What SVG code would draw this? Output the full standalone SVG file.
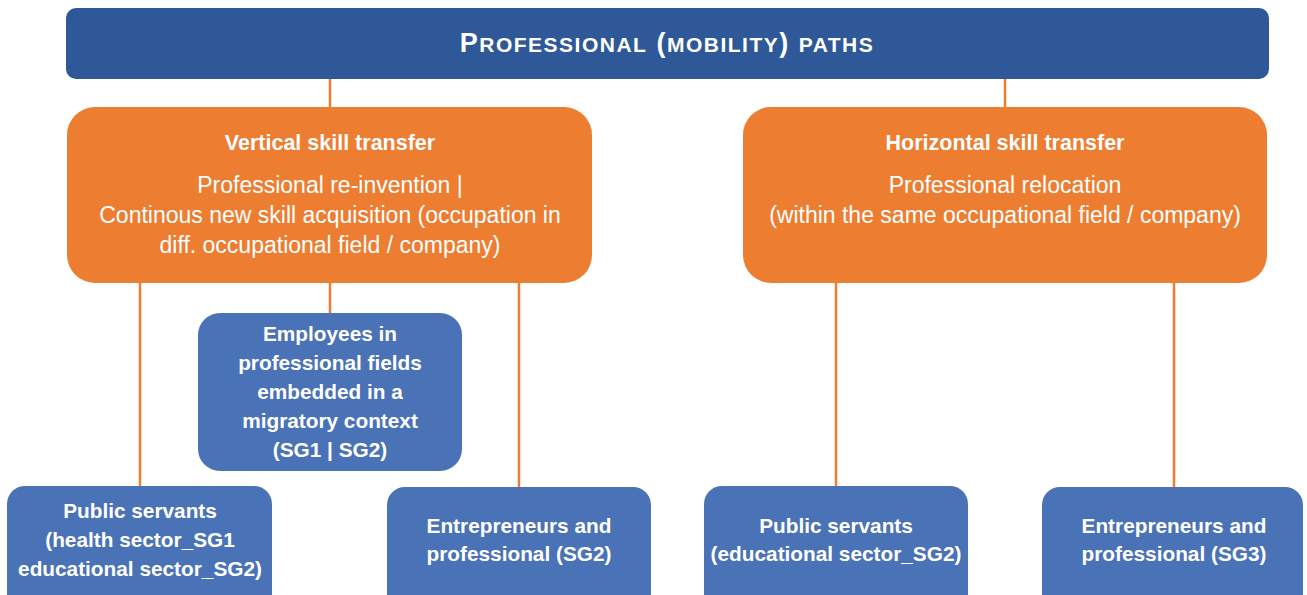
<svg xmlns="http://www.w3.org/2000/svg" width="1307" height="595" viewBox="0 0 1307 595">
<style>
.title{fill:#2E5898}
.orange{fill:#ED7D31}
.blue{fill:#4A72B7}
.conn{stroke:#ED7D31;stroke-width:2.5;fill:none}
text{font-family:"Liberation Sans",Arial,sans-serif;fill:#fff;text-anchor:middle}
.h{font-weight:bold;font-size:21.5px}
.b{font-size:23px}
.n{font-weight:bold;font-size:20.8px}
.t{font-weight:bold;font-size:27px;letter-spacing:1.5px}
.sc{font-size:21px}
</style>
<rect x="0" y="0" width="1307" height="595" fill="#fff"/>
<g id="connectors">
<line class="conn" x1="330" y1="79" x2="330" y2="108"/>
<line class="conn" x1="1005" y1="79" x2="1005" y2="108"/>
<line class="conn" x1="140" y1="282" x2="140" y2="487"/>
<line class="conn" x1="330" y1="282" x2="330" y2="314"/>
<line class="conn" x1="519" y1="282" x2="519" y2="488"/>
<line class="conn" x1="836" y1="282" x2="836" y2="487"/>
<line class="conn" x1="1174" y1="282" x2="1174" y2="488"/>
</g>
<g id="title">
<rect class="title" x="66" y="8" width="1203" height="71" rx="10"/>
<text class="t" x="667" y="52">P<tspan class="sc">ROFESSIONAL</tspan> (<tspan class="sc">MOBILITY</tspan>) <tspan class="sc">PATHS</tspan></text>
</g>
<g id="vertical">
<rect class="orange" x="67" y="107" width="525" height="176" rx="28"/>
<text class="h" x="330" y="150">Vertical skill transfer</text>
<text class="b" x="330" y="193">Professional re-invention |</text>
<text class="b" x="330" y="223">Continous new skill acquisition (occupation in</text>
<text class="b" x="330" y="253">diff. occupational field / company)</text>
</g>
<g id="horizontal">
<rect class="orange" x="743" y="107" width="524" height="176" rx="28"/>
<text class="h" x="1005" y="150">Horizontal skill transfer</text>
<text class="b" x="1005" y="193">Professional relocation</text>
<text class="b" x="1005" y="223">(within the same occupational field / company)</text>
</g>
<g id="employees">
<rect class="blue" x="198" y="313" width="264" height="158" rx="22"/>
<text class="n" x="330" y="341">Employees in</text>
<text class="n" x="330" y="370">professional fields</text>
<text class="n" x="330" y="399">embedded in a</text>
<text class="n" x="330" y="428">migratory context</text>
<text class="n" x="330" y="457">(SG1 | SG2)</text>
</g>
<g id="public-left">
<rect class="blue" x="7" y="486" width="265" height="130" rx="18"/>
<text class="n" x="140" y="518">Public servants</text>
<text class="n" x="140" y="547">(health sector_SG1</text>
<text class="n" x="140" y="576">educational sector_SG2)</text>
</g>
<g id="entre-left">
<rect class="blue" x="387" y="487" width="264" height="130" rx="18"/>
<text class="n" x="519" y="533">Entrepreneurs and</text>
<text class="n" x="519" y="561">professional (SG2)</text>
</g>
<g id="public-right">
<rect class="blue" x="704" y="486" width="264" height="130" rx="18"/>
<text class="n" x="836" y="533">Public servants</text>
<text class="n" x="836" y="561">(educational sector_SG2)</text>
</g>
<g id="entre-right">
<rect class="blue" x="1042" y="487" width="261" height="130" rx="18"/>
<text class="n" x="1174" y="533">Entrepreneurs and</text>
<text class="n" x="1174" y="561">professional (SG3)</text>
</g>
</svg>
